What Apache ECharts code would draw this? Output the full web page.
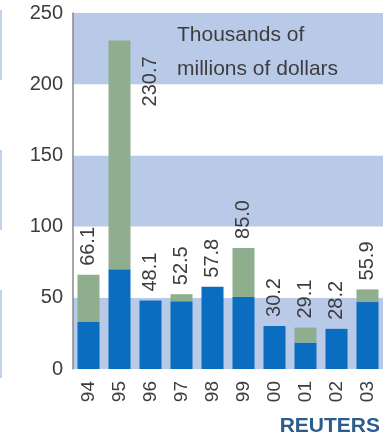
<!DOCTYPE html>
<html>
<head>
<meta charset="utf-8">
<script src="https://cdn.jsdelivr.net/npm/echarts@6/dist/echarts.min.js"></script>
<style>
html,body{margin:0;padding:0;background:#fff;}
#chart{width:383px;height:446px;}
</style>
</head>
<body>
<div id="chart"></div>
<script>
var years = ['94','95','96','97','98','99','00','01','02','03'];
var blueVals = [33.0, 70.0, 48.1, 47.5, 57.8, 50.5, 30.2, 18.5, 28.2, 47.0];
var greenVals = [33.1, 160.7, 0, 5.0, 0, 34.5, 0, 10.6, 0, 8.9];
var totals = [66.1, 230.7, 48.1, 52.5, 57.8, 85.0, 30.2, 29.1, 28.2, 55.9];
var yTicks = [0, 50, 100, 150, 200, 250];
var unitText = ['Thousands of', 'millions of dollars'];
var sourceText = 'REUTERS';

var FONT = '"Liberation Sans", Arial, Helvetica, sans-serif';
var TEXT = '#3d3d3d';

var labelData = totals.map(function (v, i) {
  if (years[i] === '95') {
    return { value: v, label: { position: [42, 66] } };
  }
  return v;
});

var chart = echarts.init(document.getElementById('chart'), null, { renderer: 'canvas' });
chart.setOption({
  animation: false,
  backgroundColor: '#ffffff',
  grid: { left: 73, top: 13, width: 313, height: 356, containLabel: false },
  xAxis: {
    type: 'category',
    data: years,
    axisLine: { show: false },
    axisTick: { show: false },
    axisLabel: { rotate: 90, margin: 12, fontSize: 19, color: TEXT, fontFamily: FONT }
  },
  yAxis: {
    type: 'value',
    min: yTicks[0],
    max: yTicks[yTicks.length - 1],
    interval: 50,
    axisLine: { show: true, lineStyle: { color: '#8a8a8a', width: 1.5 } },
    axisTick: { show: false },
    splitLine: { show: false },
    splitArea: { show: true, areaStyle: { color: ['#b9cae8', '#ffffff'] } },
    axisLabel: { margin: 10, fontSize: 20, color: TEXT, fontFamily: FONT }
  },
  graphic: [
    { type: 'text', z: 100, left: 177, top: 18, style: { text: unitText.join('\n'), font: '21px ' + FONT, fill: TEXT, lineHeight: 34 } },
    { type: 'text', z: 100, right: 3, top: 416, style: { text: sourceText, font: 'bold 21px ' + FONT, fill: '#2b5c8c' } },
    { type: 'rect', shape: { x: 0, y: 10, width: 2, height: 70 }, style: { fill: '#c3d1ec' } },
    { type: 'rect', shape: { x: 0, y: 150, width: 2, height: 80 }, style: { fill: '#c3d1ec' } },
    { type: 'rect', shape: { x: 0, y: 290, width: 2, height: 88 }, style: { fill: '#c3d1ec' } }
  ],
  series: [
    {
      type: 'bar', name: 'blue', stack: 'a', data: blueVals, barWidth: 22,
      itemStyle: { color: '#0b6dbf' }
    },
    {
      type: 'bar', name: 'green', stack: 'a', data: greenVals, barWidth: 22,
      itemStyle: { color: '#8eae8e' }
    },
    {
      type: 'bar', name: 'total', data: labelData, barWidth: 22, barGap: '-100%', silent: true,
      itemStyle: { color: 'rgba(0,0,0,0)' },
      label: {
        show: true, position: 'top', distance: 9, rotate: 90, align: 'left', verticalAlign: 'middle',
        fontSize: 20, color: TEXT, fontFamily: FONT,
        formatter: function (p) { return Number(p.value).toFixed(1); }
      }
    }
  ]
});
</script>
</body>
</html>
